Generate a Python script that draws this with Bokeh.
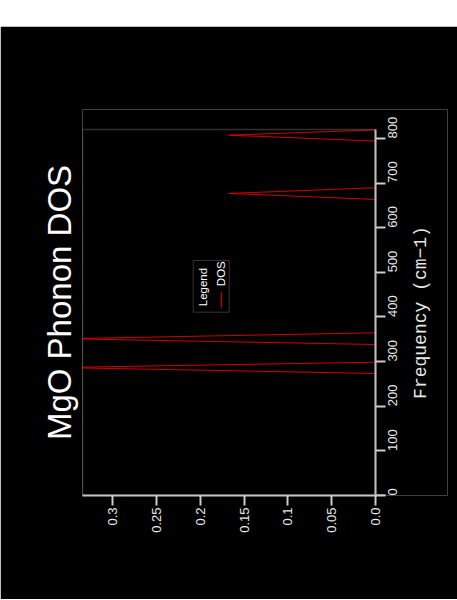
import math
from bokeh.plotting import figure
from bokeh.models import Range1d, FixedTicker, Title, BoxAnnotation, Spacer, Label
from bokeh.layouts import column
from bokeh.embed import file_html
from bokeh.resources import INLINE
from bokeh.core.properties import value

# ---- data ----
frequency = [0.0, 273.4, 286.7, 298.7, 338.3, 351.3, 364.5, 663.3, 676.7, 689.5, 794.0, 807.4, 819.0]
dos = [0.0, 0.0, 0.36, 0.0, 0.0, 0.352, 0.0, 0.0, 0.1675, 0.0, 0.0, 0.1675, 0.0]

freq_ticks = [0, 100, 200, 300, 400, 500, 600, 700, 800]
dos_ticks = [0.0, 0.05, 0.1, 0.15, 0.2, 0.25, 0.3]
dos_tick_labels = ["0.0", "0.05", "0.1", "0.15", "0.2", "0.25", "0.3"]

title_text = "MgO Phonon DOS"
freq_label = "Frequency (cm\u22121)"
legend_title = "Legend"
series_name = "DOS"

DOS_MAX = 0.3345
FREQ_MAX = 820

AX = "#cccccc"
TXT = "#e8e8e8"

# the frame is widened (right) and raised (top) so the rotated frequency title and
# the top tick label sit inside it; the visible plot box is a box annotation
p = figure(width=457, height=573, output_backend="svg", toolbar_location=None,
           x_range=Range1d(DOS_MAX, -0.0822), y_range=Range1d(0, 864.8),
           x_axis_location="below", y_axis_location="right",
           min_border_left=82, min_border_right=10, min_border_top=83, min_border_bottom=104,
           background_fill_color="black", border_fill_color="black",
           outline_line_color=None)
p.grid.visible = False

for ax in (p.xaxis[0], p.yaxis[0]):
    ax.axis_line_color = AX
    ax.axis_line_width = 2
    ax.major_tick_line_color = AX
    ax.major_tick_line_width = 2
    ax.major_tick_out = 10
    ax.major_tick_in = 0
    ax.minor_tick_line_color = None
    ax.major_label_text_color = TXT
    ax.major_label_text_font = "Liberation Sans"
    ax.major_label_text_font_size = "13px"
    ax.major_label_orientation = math.pi / 2

p.xaxis[0].ticker = FixedTicker(ticks=dos_ticks)
p.xaxis[0].major_label_overrides = {t: l for t, l in zip(dos_ticks, dos_tick_labels)}
p.xaxis[0].major_label_standoff = 2
p.xaxis[0].bounds = (-0.0114, DOS_MAX)

p.yaxis[0].ticker = FixedTicker(ticks=freq_ticks)
p.yaxis[0].major_label_standoff = 7
p.yaxis[0].fixed_location = 0.0
p.yaxis[0].bounds = (0, FREQ_MAX)

# plot box
p.add_layout(BoxAnnotation(left=DOS_MAX, right=1e-6, bottom=1e-6, top=FREQ_MAX,
                           fill_color=None, line_color="#a0a0a0", line_width=1.5))

# frequency axis title (rotated, reads bottom-to-top)
p.add_layout(Label(x=-0.0514, y=410, text=freq_label, angle=math.pi / 2,
                   text_align="center", text_baseline="middle",
                   text_font="Liberation Mono", text_font_size="18px",
                   text_color=TXT))

p.add_layout(Title(text=title_text, align="center", text_font="Liberation Sans",
                   text_font_size="33px", text_font_style="normal", text_color="white"), "left")

p.line(x=dos, y=frequency, line_color="#e60000", line_width=0.9)

# legend (drawn rotated, like the rest of the chart)
p.add_layout(BoxAnnotation(left=0.2081, right=0.167, bottom=410.7, top=526.6,
                           fill_color=None, line_color="#b0b0b0", line_width=1))
p.text(x=[0.1967], y=[467.0], text=[legend_title], angle=math.pi / 2,
       text_align="center", text_baseline="middle", text_font=value("Liberation Sans"),
       text_font_size="11.5px", text_color="white")
p.text(x=[0.176], y=[469.0], text=[series_name], angle=math.pi / 2,
       text_align="left", text_baseline="middle", text_font=value("Liberation Sans"),
       text_font_size="11.5px", text_color="white")
p.line(x=[0.176, 0.176], y=[420.6, 455.5], line_color="#e60000", line_width=1)

layout = column(Spacer(width=457, height=26), p)
open("out.html", "w").write(file_html(layout, INLINE))
